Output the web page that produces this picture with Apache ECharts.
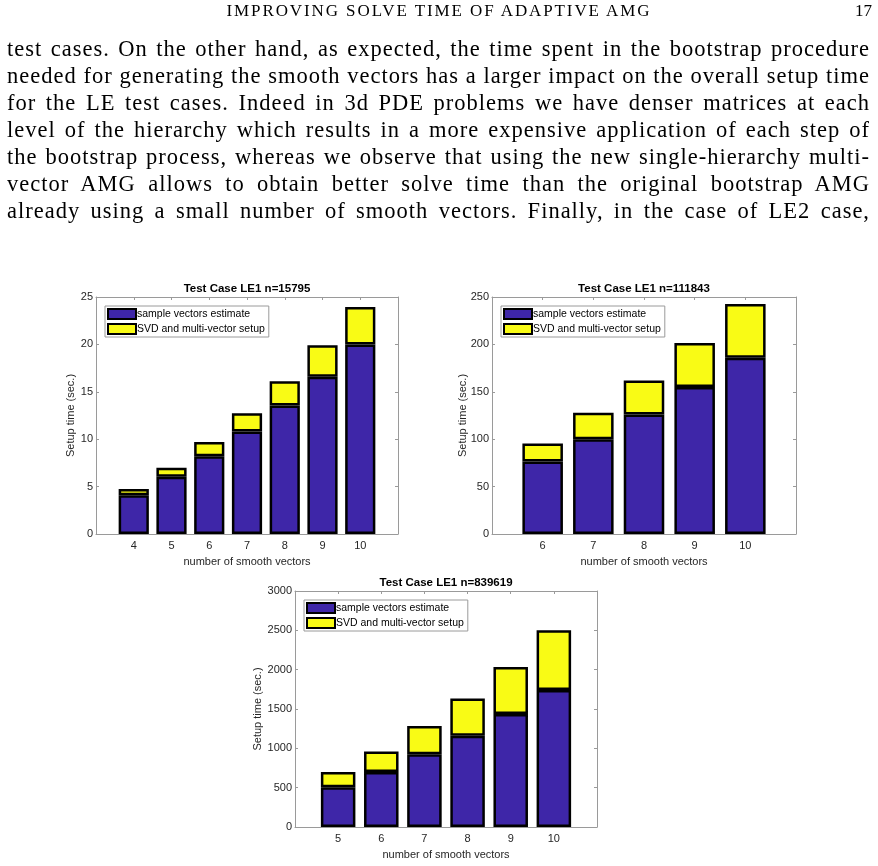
<!DOCTYPE html>
<html>
<head>
<meta charset="utf-8">
<script src="https://cdn.jsdelivr.net/npm/echarts@6/dist/echarts.min.js"></script>
<style>
  html, body { margin: 0; padding: 0; background: #fff; }
  #page { position: relative; width: 878px; height: 866px; overflow: hidden; }
  #chart { position: absolute; left: 0; top: 0; width: 878px; height: 866px; }
  .hdr { position: absolute; top: 1px; font-family: "Liberation Serif", serif; font-size: 17px; color: #000; }
  .line { position: absolute; left: 7px; width: 863px; font-family: "Liberation Serif", serif; font-size: 22.5px; letter-spacing: 1px; line-height: 27px; height: 27px; color: #000; text-align: justify; text-align-last: justify; }
</style>
</head>
<body>
<div id="page">
  <div id="chart"></div>
  <div class="hdr" style="left:0;width:878px;text-align:center;letter-spacing:1.9px;">IMPROVING SOLVE TIME OF ADAPTIVE AMG</div>
  <div class="hdr" style="left:855px;">17</div>
  <div id="text"></div>
</div>
<script>
// ---- page text ----
const bodyLines = [
  "test cases. On the other hand, as expected, the time spent in the bootstrap procedure",
  "needed for generating the smooth vectors has a larger impact on the overall setup time",
  "for the LE test cases. Indeed in 3d PDE problems we have denser matrices at each",
  "level of the hierarchy which results in a more expensive application of each step of",
  "the bootstrap process, whereas we observe that using the new single-hierarchy multi-",
  "vector AMG allows to obtain better solve time than the original bootstrap AMG",
  "already using a small number of smooth vectors. Finally, in the case of LE2 case,"
];

// ---- chart data ----
const seriesNames = ["sample vectors estimate", "SVD and multi-vector setup"];
const titles = ["Test Case LE1 n=15795", "Test Case LE1 n=111843", "Test Case LE1 n=839619"];
const xName = "number of smooth vectors";
const yName = "Setup time (sec.)";

const cats1 = [4, 5, 6, 7, 8, 9, 10];
const sample1 = [4.1, 6.05, 8.2, 10.8, 13.55, 16.6, 20.0];
const svd1 = [0.65, 0.95, 1.5, 1.95, 2.55, 3.3, 3.95];
const yTicks1 = [0, 5, 10, 15, 20, 25];

const cats2 = [6, 7, 8, 9, 10];
const sample2 = [76.5, 100, 126, 155, 186];
const svd2 = [19, 28, 36, 46.5, 56.5];
const yTicks2 = [0, 50, 100, 150, 200, 250];

const cats3 = [5, 6, 7, 8, 9, 10];
const sample3 = [505, 700, 925, 1160, 1435, 1740];
const svd3 = [195, 260, 360, 475, 600, 760];
const yTicks3 = [0, 500, 1000, 1500, 2000, 2500, 3000];

// ---- text ----
const textDiv = document.getElementById('text');
bodyLines.forEach((t, i) => {
  const d = document.createElement('div');
  d.className = 'line';
  d.style.top = (35 + i * 27) + 'px';
  d.textContent = t;
  textDiv.appendChild(d);
});

// ---- chart ----
const BLUE = '#3E26A8', YELLOW = '#F9FB15', AXIS = '#9a9a9a', LABEL = '#262626';
const FONT = '"Liberation Sans", Arial, sans-serif';

const panels = [
  { cats: cats1, sample: sample1, svd: svd1, ticks: yTicks1, title: titles[0],
    grid: { left: 96, top: 297, width: 302, height: 237 }, nameGap: 20 },
  { cats: cats2, sample: sample2, svd: svd2, ticks: yTicks2, title: titles[1],
    grid: { left: 492, top: 297, width: 304, height: 237 }, nameGap: 24 },
  { cats: cats3, sample: sample3, svd: svd3, ticks: yTicks3, title: titles[2],
    grid: { left: 295, top: 591, width: 302, height: 236 }, nameGap: 32 }
];

const option = {
  animation: false,
  backgroundColor: 'transparent',
  title: [], grid: [], xAxis: [], yAxis: [], legend: [], series: []
};

panels.forEach((p, i) => {
  const axisData = [String(p.cats[0] - 1)].concat(p.cats.map(String), [String(p.cats[p.cats.length - 1] + 1)]);
  const n = axisData.length;
  const inner = (idx) => idx > 0 && idx < n - 1;
  const ymin = p.ticks[0], ymax = p.ticks[p.ticks.length - 1], yint = p.ticks[1] - p.ticks[0];
  option.grid.push(Object.assign({ outerBoundsMode: 'none', containLabel: false }, p.grid));
  option.title.push({
    text: p.title,
    left: p.grid.left + p.grid.width / 2,
    top: p.grid.top - 14,
    textAlign: 'center',
    padding: 0,
    textStyle: { fontFamily: FONT, fontSize: 11.5, fontWeight: 'bold', color: '#000' }
  });
  option.xAxis.push({
    type: 'category', gridIndex: i, position: 'bottom', data: axisData, boundaryGap: false,
    name: xName, nameLocation: 'middle', nameGap: 22, nameMoveOverlap: false,
    nameTextStyle: { fontFamily: FONT, fontSize: 11, color: LABEL },
    axisLine: { show: true, onZero: false, lineStyle: { color: AXIS, width: 1 } },
    axisTick: { show: true, inside: true, length: 3, interval: inner, lineStyle: { color: AXIS } },
    axisLabel: { interval: inner, margin: 6, fontFamily: FONT, fontSize: 11, color: LABEL },
    splitLine: { show: false }
  });
  option.xAxis.push({
    type: 'category', gridIndex: i, position: 'top', data: axisData, boundaryGap: false,
    axisLine: { show: true, onZero: false, lineStyle: { color: AXIS, width: 1 } },
    axisTick: { show: true, inside: true, length: 3, interval: inner, lineStyle: { color: AXIS } },
    axisLabel: { show: false }, splitLine: { show: false }
  });
  option.yAxis.push({
    type: 'value', gridIndex: i, position: 'left', min: ymin, max: ymax, interval: yint,
    name: yName, nameLocation: 'middle', nameGap: p.nameGap, nameMoveOverlap: false,
    nameTextStyle: { fontFamily: FONT, fontSize: 11, color: LABEL },
    axisLine: { show: true, onZero: false, lineStyle: { color: AXIS, width: 1 } },
    axisTick: { show: true, inside: true, length: 3, lineStyle: { color: AXIS } },
    axisLabel: { margin: 3, fontFamily: FONT, fontSize: 11, color: LABEL, formatter: (v) => String(v) },
    splitLine: { show: false }
  });
  option.yAxis.push({
    type: 'value', gridIndex: i, position: 'right', min: ymin, max: ymax, interval: yint,
    axisLine: { show: true, onZero: false, lineStyle: { color: AXIS, width: 1 } },
    axisTick: { show: true, inside: true, length: 3, lineStyle: { color: AXIS } },
    axisLabel: { show: false }, splitLine: { show: false }
  });
  option.legend.push({
    orient: 'vertical',
    left: p.grid.left + 9, top: p.grid.top + 9,
    data: seriesNames,
    icon: 'rect',
    itemWidth: 28, itemHeight: 10, itemGap: 3,
    padding: [2, 4, 2, 2],
    backgroundColor: '#fff', borderColor: AXIS, borderWidth: 1, borderRadius: 0,
    selectedMode: false,
    textStyle: { fontFamily: FONT, fontSize: 10.5, color: '#000', padding: [0, 0, 0, -4] }
  });
  const pad = (arr) => [null].concat(arr, [null]);
  option.series.push({
    name: seriesNames[0], type: 'bar', xAxisIndex: 2 * i, yAxisIndex: 2 * i,
    stack: 'p' + i, barWidth: '80%', data: pad(p.sample),
    itemStyle: { color: BLUE, borderColor: '#000', borderWidth: 2.5 }
  });
  option.series.push({
    name: seriesNames[1], type: 'bar', xAxisIndex: 2 * i, yAxisIndex: 2 * i,
    stack: 'p' + i, barWidth: '80%', data: pad(p.svd),
    itemStyle: { color: YELLOW, borderColor: '#000', borderWidth: 2.5 }
  });
});

const chart = echarts.init(document.getElementById('chart'), null, { renderer: 'canvas' });
chart.setOption(option);
</script>
</body>
</html>
